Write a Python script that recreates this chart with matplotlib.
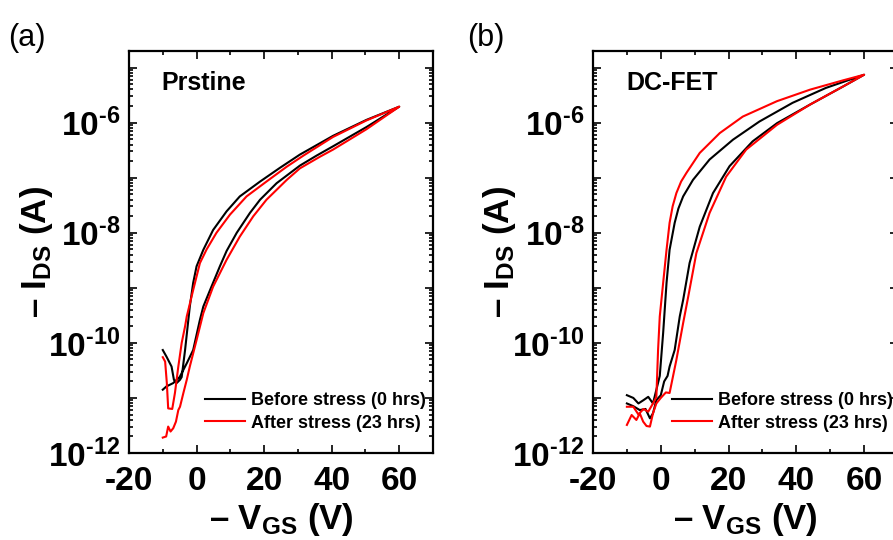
import numpy as np
import matplotlib
matplotlib.use("Agg")
import matplotlib.pyplot as plt
from matplotlib.ticker import LogLocator, FuncFormatter, NullFormatter

plt.rcParams['font.family'] = ['Liberation Sans', 'DejaVu Sans']
plt.rcParams['mathtext.fontset'] = 'custom'
plt.rcParams['mathtext.rm'] = 'Liberation Sans:bold'
plt.rcParams['mathtext.bf'] = 'Liberation Sans:bold'
plt.rcParams['mathtext.it'] = 'Liberation Sans:bold'

# ---- data: -V_GS (V) and log10(-I_DS / A) ----
# (a) pristine, before stress
pri_before_lo_v = [-10, -8.9, -6.9, -5, -3.9, -2.9, -1, 1, 2, 4, 6.9, 8.9, 11.9, 15.8,
                   18.8, 23.7, 30.6, 35.5, 40.4, 50.3, 60]
pri_before_lo_i = [-10.85, -10.79, -10.73, -10.62, -10.49, -10.37, -10.13, -9.58, -9.34, -9.04,
                   -8.61, -8.33, -8.0, -7.64, -7.4, -7.1, -6.78, -6.6, -6.43, -6.08, -5.71]
pri_before_up_v = [-10, -8.9, -7.4, -6.7, -5.9, -4.9, -4.4, -3.4, -2.0, -1.0, 0, 2.0, 4.9, 8.9,
                   12.8, 18.8, 24.7, 30.6, 40.4, 50.3, 60]
pri_before_up_i = [-10.13, -10.25, -10.43, -10.67, -10.73, -10.67, -10.62, -10.13, -9.34, -8.91,
                   -8.61, -8.31, -7.95, -7.61, -7.34, -7.07, -6.82, -6.58, -6.24, -5.95, -5.71]
# (a) pristine, after stress
pri_after_lo_v = [-10, -9, -8.4, -7.7, -6.9, -6.1, -5.4, -4.9, -3.9, -2.9, -2, -1, 0, 2, 4.9,
                  8.9, 12.8, 16.8, 20.7, 26.7, 30.6, 36.5, 40.4, 50.3, 60]
pri_after_lo_i = [-11.72, -11.7, -11.52, -11.61, -11.55, -11.43, -11.22, -11.16, -10.91, -10.67,
                  -10.43, -10.19, -9.95, -9.46, -8.98, -8.49, -8.07, -7.7, -7.4, -7.04, -6.83,
                  -6.62, -6.49, -6.12, -5.71]
pri_after_up_v = [-10, -9.3, -8.8, -8.4, -7.2, -6.4, -5.4, -4.4, -3.4, -2.9, -1, 1, 3, 5.9,
                  9.9, 14.8, 20.7, 26.7, 31.6, 40.4, 50.3, 60]
pri_after_up_i = [-10.26, -10.34, -10.73, -11.19, -11.2, -10.91, -10.43, -10.0, -9.7, -9.52,
                  -9.04, -8.55, -8.3, -8.0, -7.67, -7.34, -7.07, -6.8, -6.6, -6.26, -5.96,
                  -5.71]
# (b) DC-FET, before stress
dc_before_lo_v = [-10, -8.1, -6.2, -4.5, -3.2, -2.3, -1.3, 0, 1, 2, 2.6, 4.1, 5.6, 6.6, 8.5,
                  11.5, 15.4, 20.3, 27.1, 34.3, 44.1, 53.9, 60]
dc_before_lo_i = [-11.1, -11.15, -11.22, -11.2, -11.37, -11.28, -11.04, -10.95, -10.7, -10.6,
                  -10.43, -10.13, -9.52, -9.22, -8.55, -7.89, -7.28, -6.79, -6.34, -6.01,
                  -5.67, -5.34, -5.13]
dc_before_up_v = [-10, -8.1, -6.6, -5.1, -3.7, -2.3, -1.3, -0.3, 0.7, 1.7, 2.6, 4.1, 5.2, 6.6,
                  9.5, 14.4, 21.3, 29.1, 38.9, 48.7, 60]
dc_before_up_i = [-10.95, -11.0, -11.1, -11.04, -10.98, -11.1, -10.85, -10.6, -9.82, -8.91,
                  -8.31, -7.82, -7.56, -7.34, -7.04, -6.67, -6.31, -5.98, -5.64, -5.37, -5.13]
# (b) DC-FET, after stress
dc_after_lo_v = [-10, -8.6, -7.2, -6.2, -5.2, -4.2, -3.2, -2.3, -1.3, 0, 1.5, 2.6, 4.6, 6.6,
                 8.1, 10.5, 14.4, 19.3, 25.2, 34.3, 44.1, 53.9, 60]
dc_after_lo_i = [-11.49, -11.31, -11.4, -11.28, -11.43, -11.51, -11.52, -11.28, -11.1, -11.0,
                 -10.9, -10.91, -10.31, -9.64, -9.16, -8.37, -7.64, -6.98, -6.49, -6.04, -5.67,
                 -5.34, -5.13]
dc_after_up_v = [-10, -8.1, -6.6, -5.1, -3.7, -2.3, -1.3, -0.8, -0.3, 0.7, 1.7, 2.6, 3.5, 4.6,
                 6.0, 7.6, 11.5, 17.4, 24.2, 34.3, 44.1, 53.9, 60]
dc_after_up_i = [-11.16, -11.16, -11.3, -11.2, -11.25, -11.1, -10.98, -10.13, -9.52, -8.91,
                 -8.31, -7.82, -7.52, -7.28, -7.07, -6.91, -6.55, -6.19, -5.89, -5.61, -5.4,
                 -5.23, -5.13]

panel_titles = ["Prstine", "DC-FET"]
panel_tags = ["(a)", "(b)"]
legend_labels = ["Before stress (0 hrs)", "After stress (23 hrs)"]
x_major = [-20, 0, 20, 40, 60]
x_minor = [-10, 10, 30, 50]


def loop(lo_v, lo_i, up_v, up_i):
    """forward sweep along the lower branch, back along the upper one"""
    v = np.concatenate([lo_v, up_v[::-1]])
    i = 10.0 ** np.concatenate([lo_i, up_i[::-1]])
    return v, i


def exp_label(val, pos):
    e = int(round(np.log10(val)))
    if e % 2:
        return ""
    # plain hyphen in the exponent, like the original figure
    return r"$\mathbf{10^{\text{-}%d}}$" % abs(e)


fig = plt.figure(figsize=(8.93, 5.4), dpi=100)
ax_a = fig.add_axes([129 / 893, 1 - 453 / 540, 304 / 893, 402 / 540])
ax_b = fig.add_axes([593 / 893, 1 - 453 / 540, 305 / 893, 402 / 540])

curves = [
    [loop(pri_before_lo_v, pri_before_lo_i, pri_before_up_v, pri_before_up_i),
     loop(pri_after_lo_v, pri_after_lo_i, pri_after_up_v, pri_after_up_i)],
    [loop(dc_before_lo_v, dc_before_lo_i, dc_before_up_v, dc_before_up_i),
     loop(dc_after_lo_v, dc_after_lo_i, dc_after_up_v, dc_after_up_i)],
]
leg_x = [0.25, 0.26]

for k, ax in enumerate([ax_a, ax_b]):
    (vb, ib), (va, ia) = curves[k]
    ax.plot(vb, ib, color="black", lw=1.5, label=legend_labels[0])
    ax.plot(va, ia, color="red", lw=1.5, label=legend_labels[1])

    ax.set_yscale("log")
    ax.set_xlim(-20, 70)
    ax.set_ylim(1e-12, 2e-5)

    ax.set_xticks(x_major)
    ax.set_xticklabels([str(t) for t in x_major])
    ax.set_xticks(x_minor, minor=True)
    ax.yaxis.set_major_locator(LogLocator(base=10, numticks=20))
    ax.yaxis.set_minor_locator(LogLocator(base=10, subs=np.arange(2, 10), numticks=20))
    ax.yaxis.set_major_formatter(FuncFormatter(exp_label))
    ax.yaxis.set_minor_formatter(NullFormatter())

    ax.tick_params(which="both", direction="in", top=True, right=True, width=1.2)
    ax.tick_params(which="major", length=6, labelsize=24)
    ax.tick_params(axis="y", which="major", pad=6)
    ax.tick_params(axis="x", which="major", pad=9)
    ax.tick_params(which="minor", length=3)
    for lab in ax.get_xticklabels():
        lab.set_fontweight("bold")
    for s in ax.spines.values():
        s.set_linewidth(1.6)

    ax.set_xlabel(r"– $\mathbf{V_{GS}}$ (V)", fontsize=25, fontweight="bold")
    ax.set_ylabel(r"– $\mathbf{I_{DS}}$ (A)", fontsize=25, fontweight="bold")
    ax.xaxis.set_label_coords(0.5, -0.12)
    ax.yaxis.set_label_coords(-0.245, 0.5)

    ax.text(0.108, 0.92, panel_titles[k], transform=ax.transAxes, fontsize=18,
            fontweight="bold", va="center", ha="left")

    ax.legend(loc="lower left", bbox_to_anchor=(leg_x[k], 0.053), frameon=False,
              borderpad=0, borderaxespad=0, handlelength=2.2, handletextpad=0.35,
              labelspacing=0.3, prop={"size": 13, "weight": "bold"})

fig.text(0.009, 0.957, panel_tags[0], fontsize=22, va="top", ha="left")
fig.text(0.523, 0.957, panel_tags[1], fontsize=22, va="top", ha="left")

fig.savefig("out.png", dpi=100)
